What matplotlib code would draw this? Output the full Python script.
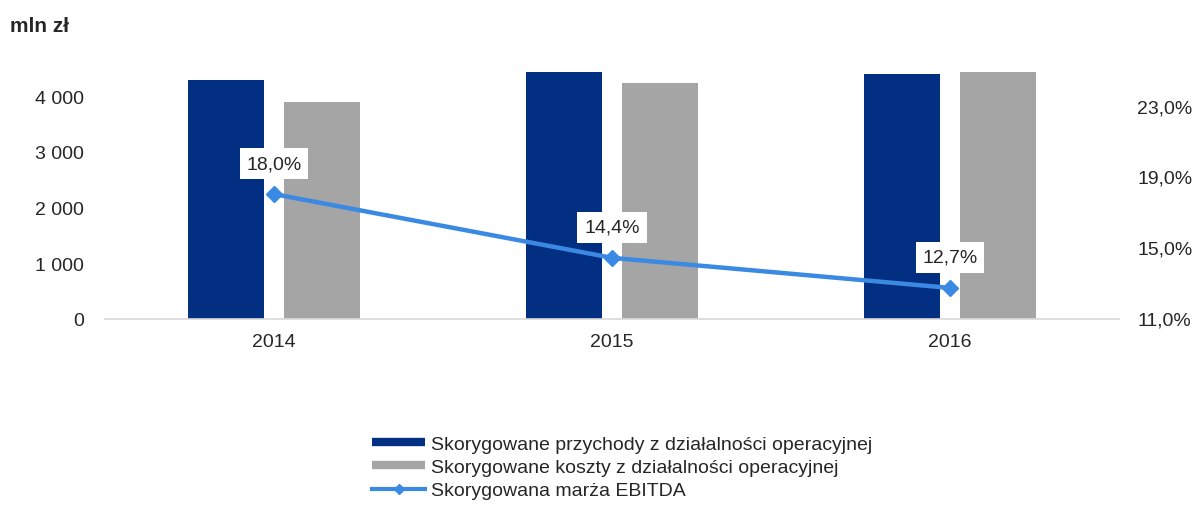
import matplotlib.pyplot as plt
from matplotlib.lines import Line2D

years = ["2014", "2015", "2016"]
revenue = [4290, 4430, 4395]
costs = [3890, 4235, 4430]
ebitda_margin = [18.0, 14.4, 12.7]
margin_labels = ["18,0%", "14,4%", "12,7%"]

left_ticks = [0, 1000, 2000, 3000, 4000]
left_tick_labels = ["0", "1 000", "2 000", "3 000", "4 000"]
right_ticks = [11, 15, 19, 23]
right_tick_labels = ["11,0%", "15,0%", "19,0%", "23,0%"]

NAVY = "#022F82"
GRAY = "#A5A5A5"
BLUE = "#3A89E3"
TXT = "#262626"
FS = 14

plt.rcParams['font.family'] = ['Liberation Sans', 'DejaVu Sans']

W, H = 1202, 506
fig = plt.figure(figsize=(W / 100, H / 100), dpi=100)

# plot area in pixels (left, right, bottom, top)
px_l, px_r, px_b, px_t = 105, 1119, 320, 60
ax = fig.add_axes([px_l / W, 1 - px_b / H, (px_r - px_l) / W, (px_b - px_t) / H])

px_per_k = 55.75       # px per 1000 on left axis
px_per_pct = 17.7      # px per 1 % on right axis
ax.set_ylim(0, (px_b - px_t) / px_per_k * 1000)
ax.set_xlim(-0.5, 2.5)

x = range(len(years))
bw = 0.222
off = 0.142
ax.bar([i - off for i in x], revenue, width=bw, color=NAVY, zorder=2)
ax.bar([i + off for i in x], costs, width=bw, color=GRAY, zorder=2)

for s in ["top", "left", "right"]:
    ax.spines[s].set_visible(False)
ax.spines["bottom"].set_color("#D9D9D9")
ax.spines["bottom"].set_linewidth(1.2)
ax.set_yticks(left_ticks)
ax.set_yticklabels(left_tick_labels)
ax.set_xticks(list(x))
ax.set_xticklabels(years)
ax.tick_params(axis="both", length=0, labelsize=FS, colors=TXT)
ax.tick_params(axis="y", pad=15)
ax.tick_params(axis="x", pad=10)

ax2 = ax.twinx()
bottom_pct = 11 - 1 / px_per_pct
ax2.set_ylim(bottom_pct, bottom_pct + (px_b - px_t) / px_per_pct)
ax2.plot(list(x), ebitda_margin, color=BLUE, lw=3.2, marker="D", markersize=8,
         zorder=3)
for s in ["top", "left", "right", "bottom"]:
    ax2.spines[s].set_visible(False)
ax2.set_yticks(right_ticks)
ax2.set_yticklabels(right_tick_labels)
ax2.tick_params(axis="y", length=0, labelsize=FS, colors=TXT, pad=13)

for i, (v, lab) in enumerate(zip(ebitda_margin, margin_labels)):
    ax2.annotate(lab, (i, v), xytext=(0, 22), textcoords="offset points",
                 ha="center", va="center", fontsize=FS, color=TXT,
                 bbox=dict(boxstyle="square,pad=0.35", fc="white", ec="none"))

fig.text(10 / W, 1 - 26 / H, "mln zł", fontsize=15, fontweight="bold",
         color=TXT, va="center", ha="left")

handles = [
    Line2D([], [], color=NAVY, lw=6, solid_capstyle="butt"),
    Line2D([], [], color=GRAY, lw=6, solid_capstyle="butt"),
    Line2D([], [], color=BLUE, lw=3, marker="D", markersize=5),
]
labels = [
    "Skorygowane przychody z działalności operacyjnej",
    "Skorygowane koszty z działalności operacyjnej",
    "Skorygowana marża EBITDA",
]
fig.legend(handles, labels, loc="upper left",
           bbox_to_anchor=(372 / W, 1 - 436 / H), frameon=False,
           fontsize=FS, handlelength=2.75, handletextpad=0.3,
           labelspacing=0.3, borderpad=0, borderaxespad=0,
           labelcolor=TXT)

fig.savefig("out.png", dpi=100)
